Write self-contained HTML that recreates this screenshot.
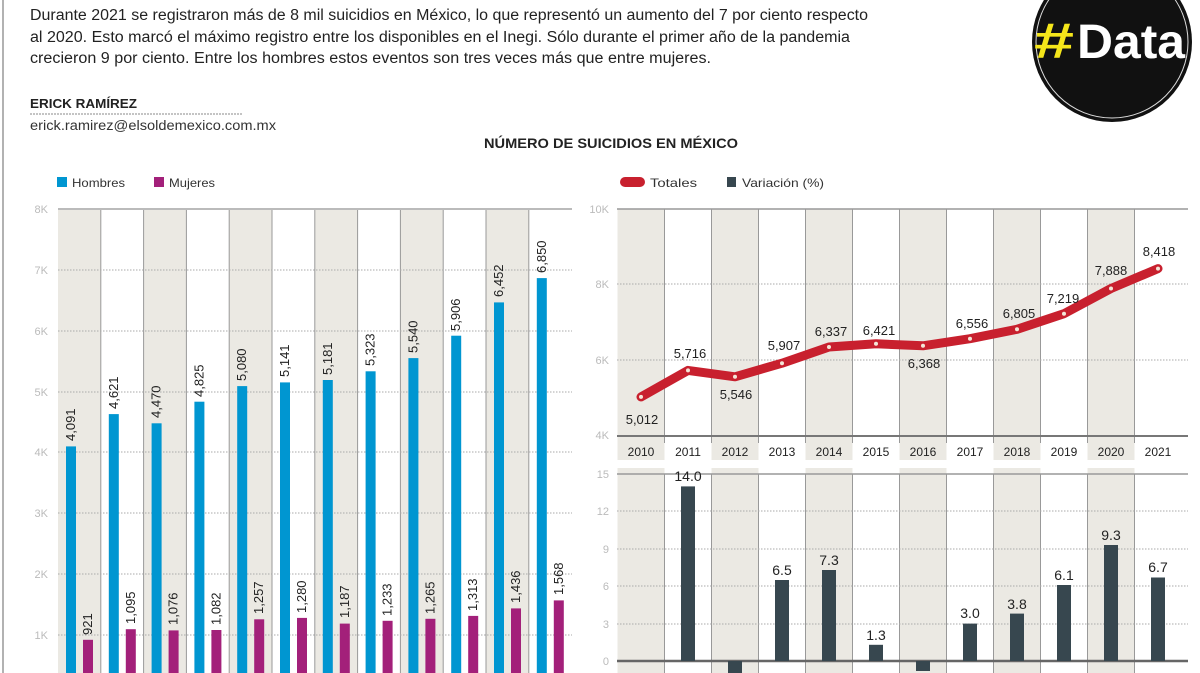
<!DOCTYPE html>
<html><head><meta charset="utf-8"><style>
body{margin:0;background:#fff;}
svg{display:block;font-family:"Liberation Sans",sans-serif;}
</style></head><body>
<svg width="1200" height="673" viewBox="0 0 1200 673" xmlns="http://www.w3.org/2000/svg">
<rect width="1200" height="673" fill="#fff"/>
<line x1="3" y1="0" x2="3" y2="673" stroke="#999" stroke-width="1.5"/>
<g font-size="15.5" fill="#222">
<text x="30" y="20" textLength="838" lengthAdjust="spacingAndGlyphs">Durante 2021 se registraron más de 8 mil suicidios en México, lo que representó un aumento del 7 por ciento respecto</text>
<text x="30" y="42" textLength="820" lengthAdjust="spacingAndGlyphs">al 2020. Esto marcó el máximo registro entre los disponibles en el Inegi. Sólo durante el primer año de la pandemia</text>
<text x="30" y="63" textLength="681" lengthAdjust="spacingAndGlyphs">crecieron 9 por ciento. Entre los hombres estos eventos son tres veces más que entre mujeres.</text>
</g>
<text x="30" y="108" font-size="13" font-weight="bold" fill="#222" textLength="107" lengthAdjust="spacingAndGlyphs">ERICK RAMÍREZ</text>
<line x1="30" y1="114" x2="242" y2="114" stroke="#888" stroke-dasharray="2,1"/>
<text x="30" y="130" font-size="13.5" fill="#333" textLength="246" lengthAdjust="spacingAndGlyphs">erick.ramirez@elsoldemexico.com.mx</text>
<text x="611" y="148" font-size="14" font-weight="bold" fill="#222" text-anchor="middle" textLength="254" lengthAdjust="spacingAndGlyphs">NÚMERO DE SUICIDIOS EN MÉXICO</text>
<!-- logo -->
<circle cx="1112" cy="42" r="80" fill="#111"/>
<circle cx="1112" cy="42" r="76" fill="none" stroke="#ddd" stroke-width="1"/>
<text x="1034" y="58" font-size="50" font-weight="bold" fill="#f5e61a" textLength="40" lengthAdjust="spacingAndGlyphs">#</text>
<text x="1077" y="58" font-size="48" font-weight="bold" fill="#fff" textLength="108" lengthAdjust="spacingAndGlyphs">Data</text>
<!-- left legend -->
<rect x="57" y="177" width="10" height="10" fill="#0096d1"/><text x="72" y="187" font-size="12" fill="#333" textLength="53" lengthAdjust="spacingAndGlyphs">Hombres</text>
<rect x="154" y="177" width="10" height="10" fill="#a3207a"/><text x="169" y="187" font-size="12" fill="#333" textLength="46" lengthAdjust="spacingAndGlyphs">Mujeres</text>
<!-- left columns -->
<g fill="#ebe9e3">
<rect x="58" y="209" width="42.8" height="464"/><rect x="143.6" y="209" width="42.8" height="464"/><rect x="229.2" y="209" width="42.8" height="464"/><rect x="314.8" y="209" width="42.8" height="464"/><rect x="400.4" y="209" width="42.8" height="464"/><rect x="486" y="209" width="42.8" height="464"/>
</g>
<g stroke="#999" stroke-width="1">
<line x1="100.8" y1="209" x2="100.8" y2="673"/><line x1="143.6" y1="209" x2="143.6" y2="673"/><line x1="186.4" y1="209" x2="186.4" y2="673"/><line x1="229.2" y1="209" x2="229.2" y2="673"/><line x1="272" y1="209" x2="272" y2="673"/><line x1="314.8" y1="209" x2="314.8" y2="673"/><line x1="357.6" y1="209" x2="357.6" y2="673"/><line x1="400.4" y1="209" x2="400.4" y2="673"/><line x1="443.2" y1="209" x2="443.2" y2="673"/><line x1="486" y1="209" x2="486" y2="673"/><line x1="528.8" y1="209" x2="528.8" y2="673"/>
</g>
<line x1="58" y1="209" x2="572" y2="209" stroke="#bbb" stroke-width="2"/>
<g stroke="#aaa" stroke-dasharray="1.5,1.5">
<line x1="58" y1="270" x2="572" y2="270"/><line x1="58" y1="331" x2="572" y2="331"/><line x1="58" y1="392" x2="572" y2="392"/><line x1="58" y1="452" x2="572" y2="452"/><line x1="58" y1="513" x2="572" y2="513"/><line x1="58" y1="574" x2="572" y2="574"/><line x1="58" y1="635" x2="572" y2="635"/>
</g>
<g font-size="11" fill="#bbb" text-anchor="end">
<text x="48" y="213">8K</text><text x="48" y="274">7K</text><text x="48" y="335">6K</text><text x="48" y="396">5K</text><text x="48" y="456">4K</text><text x="48" y="517">3K</text><text x="48" y="578">2K</text><text x="48" y="639">1K</text>
</g>
<g fill="#0096d1">
<rect x="66" y="446.4" width="10" height="260"/><rect x="108.8" y="414.1" width="10" height="290"/><rect x="151.6" y="423.3" width="10" height="280"/><rect x="194.4" y="401.7" width="10" height="300"/><rect x="237.2" y="386.1" width="10" height="320"/><rect x="280" y="382.4" width="10" height="320"/><rect x="322.8" y="380" width="10" height="320"/><rect x="365.6" y="371.3" width="10" height="330"/><rect x="408.4" y="358.1" width="10" height="340"/><rect x="451.2" y="335.7" width="10" height="360"/><rect x="494" y="302.4" width="10" height="400"/><rect x="536.8" y="278.1" width="10" height="420"/>
</g>
<g fill="#a3207a">
<rect x="83" y="639.8" width="10" height="60"/><rect x="125.8" y="629.2" width="10" height="60"/><rect x="168.6" y="630.4" width="10" height="60"/><rect x="211.4" y="630" width="10" height="60"/><rect x="254.2" y="619.3" width="10" height="60"/><rect x="297" y="617.9" width="10" height="60"/><rect x="339.8" y="623.6" width="10" height="60"/><rect x="382.6" y="620.8" width="10" height="60"/><rect x="425.4" y="618.8" width="10" height="60"/><rect x="468.2" y="615.9" width="10" height="60"/><rect x="511" y="608.4" width="10" height="70"/><rect x="553.8" y="600.4" width="10" height="80"/>
</g>
<g font-size="13" fill="#222">
<text transform="translate(75,441) rotate(-90)">4,091</text>
<text transform="translate(117.8,409) rotate(-90)">4,621</text>
<text transform="translate(160.6,418) rotate(-90)">4,470</text>
<text transform="translate(203.4,397) rotate(-90)">4,825</text>
<text transform="translate(246.2,381) rotate(-90)">5,080</text>
<text transform="translate(289,377) rotate(-90)">5,141</text>
<text transform="translate(331.8,375) rotate(-90)">5,181</text>
<text transform="translate(374.6,366) rotate(-90)">5,323</text>
<text transform="translate(417.4,353) rotate(-90)">5,540</text>
<text transform="translate(460.2,331) rotate(-90)">5,906</text>
<text transform="translate(503,297) rotate(-90)">6,452</text>
<text transform="translate(545.8,273) rotate(-90)">6,850</text>
<text transform="translate(92,635) rotate(-90)">921</text>
<text transform="translate(134.8,624) rotate(-90)">1,095</text>
<text transform="translate(177.6,625) rotate(-90)">1,076</text>
<text transform="translate(220.4,625) rotate(-90)">1,082</text>
<text transform="translate(263.2,614) rotate(-90)">1,257</text>
<text transform="translate(306,613) rotate(-90)">1,280</text>
<text transform="translate(348.8,618) rotate(-90)">1,187</text>
<text transform="translate(391.6,616) rotate(-90)">1,233</text>
<text transform="translate(434.4,614) rotate(-90)">1,265</text>
<text transform="translate(477.2,611) rotate(-90)">1,313</text>
<text transform="translate(520,603) rotate(-90)">1,436</text>
<text transform="translate(562.8,595) rotate(-90)">1,568</text>
</g>
<!-- right legend -->
<rect x="620" y="177" width="25" height="10" rx="5" fill="#c8202e"/><text x="650" y="187" font-size="12" fill="#333" textLength="47" lengthAdjust="spacingAndGlyphs">Totales</text>
<rect x="727" y="177" width="9" height="10" fill="#37474f"/><text x="742" y="187" font-size="12" fill="#333" textLength="82" lengthAdjust="spacingAndGlyphs">Variación (%)</text>
<!-- right columns -->
<g fill="#ebe9e3">
<rect x="617.5" y="209" width="47" height="251"/><rect x="711.5" y="209" width="47" height="251"/><rect x="805.5" y="209" width="47" height="251"/><rect x="899.5" y="209" width="47" height="251"/><rect x="993.5" y="209" width="47" height="251"/><rect x="1087.5" y="209" width="47" height="251"/>
<rect x="617.5" y="468" width="47" height="205"/><rect x="711.5" y="468" width="47" height="205"/><rect x="805.5" y="468" width="47" height="205"/><rect x="899.5" y="468" width="47" height="205"/><rect x="993.5" y="468" width="47" height="205"/><rect x="1087.5" y="468" width="47" height="205"/>
</g>
<g stroke="#999" stroke-width="1">
<line x1="664.5" y1="209" x2="664.5" y2="443"/><line x1="711.5" y1="209" x2="711.5" y2="443"/><line x1="758.5" y1="209" x2="758.5" y2="443"/><line x1="805.5" y1="209" x2="805.5" y2="443"/><line x1="852.5" y1="209" x2="852.5" y2="443"/><line x1="899.5" y1="209" x2="899.5" y2="443"/><line x1="946.5" y1="209" x2="946.5" y2="443"/><line x1="993.5" y1="209" x2="993.5" y2="443"/><line x1="1040.5" y1="209" x2="1040.5" y2="443"/><line x1="1087.5" y1="209" x2="1087.5" y2="443"/><line x1="1134.5" y1="209" x2="1134.5" y2="443"/>
<line x1="664.5" y1="474" x2="664.5" y2="673"/><line x1="711.5" y1="474" x2="711.5" y2="673"/><line x1="758.5" y1="474" x2="758.5" y2="673"/><line x1="805.5" y1="474" x2="805.5" y2="673"/><line x1="852.5" y1="474" x2="852.5" y2="673"/><line x1="899.5" y1="474" x2="899.5" y2="673"/><line x1="946.5" y1="474" x2="946.5" y2="673"/><line x1="993.5" y1="474" x2="993.5" y2="673"/><line x1="1040.5" y1="474" x2="1040.5" y2="673"/><line x1="1087.5" y1="474" x2="1087.5" y2="673"/><line x1="1134.5" y1="474" x2="1134.5" y2="673"/>
</g>
<line x1="617" y1="209" x2="1188" y2="209" stroke="#999" stroke-width="1.5"/>
<line x1="617" y1="436" x2="1188" y2="436" stroke="#777" stroke-width="2"/>
<line x1="617" y1="474" x2="1188" y2="474" stroke="#999" stroke-width="1.5"/>
<line x1="617" y1="661" x2="1188" y2="661" stroke="#666" stroke-width="2.5"/>
<g stroke="#aaa" stroke-dasharray="1.5,1.5">
<line x1="617" y1="284" x2="1188" y2="284"/><line x1="617" y1="360" x2="1188" y2="360"/>
<line x1="617" y1="511" x2="1188" y2="511"/><line x1="617" y1="549" x2="1188" y2="549"/><line x1="617" y1="586" x2="1188" y2="586"/><line x1="617" y1="624" x2="1188" y2="624"/>
</g>
<g font-size="11" fill="#bbb" text-anchor="end">
<text x="609" y="213">10K</text><text x="609" y="288">8K</text><text x="609" y="364">6K</text><text x="609" y="439">4K</text>
<text x="609" y="478">15</text><text x="609" y="515">12</text><text x="609" y="553">9</text><text x="609" y="590">6</text><text x="609" y="628">3</text><text x="609" y="665">0</text>
</g>
<g font-size="12" fill="#222" text-anchor="middle">
<text x="641" y="456">2010</text><text x="688" y="456">2011</text><text x="735" y="456">2012</text><text x="782" y="456">2013</text><text x="829" y="456">2014</text><text x="876" y="456">2015</text><text x="923" y="456">2016</text><text x="970" y="456">2017</text><text x="1017" y="456">2018</text><text x="1064" y="456">2019</text><text x="1111" y="456">2020</text><text x="1158" y="456">2021</text>
</g>
<polyline points="641,396.9 688,370.4 735,376.8 782,363.2 829,347 876,343.8 923,345.8 970,338.7 1017,329.3 1064,313.7 1111,288.5 1158,268.6" fill="none" stroke="#c8202e" stroke-width="9" stroke-linejoin="round" stroke-linecap="round"/>
<g fill="#f3e6d8">
<circle cx="641" cy="396.9" r="2"/><circle cx="688" cy="370.4" r="2"/><circle cx="735" cy="376.8" r="2"/><circle cx="782" cy="363.2" r="2"/><circle cx="829" cy="347" r="2"/><circle cx="876" cy="343.8" r="2"/><circle cx="923" cy="345.8" r="2"/><circle cx="970" cy="338.7" r="2"/><circle cx="1017" cy="329.3" r="2"/><circle cx="1064" cy="313.7" r="2"/><circle cx="1111" cy="288.5" r="2"/><circle cx="1158" cy="268.6" r="2"/>
</g>
<g font-size="13" fill="#222" text-anchor="middle">
<text x="642" y="424">5,012</text><text x="690" y="358">5,716</text><text x="736" y="399">5,546</text><text x="784" y="350">5,907</text><text x="831" y="336">6,337</text><text x="879" y="335">6,421</text><text x="924" y="368">6,368</text><text x="972" y="328">6,556</text><text x="1019" y="318">6,805</text><text x="1063" y="303">7,219</text><text x="1111" y="275">7,888</text><text x="1159" y="256">8,418</text>
</g>
<g fill="#37474f">
<rect x="681" y="486.4" width="14" height="174.6"/><rect x="728" y="661" width="14" height="37"/><rect x="775" y="580" width="14" height="81"/><rect x="822" y="570" width="14" height="91"/><rect x="869" y="644.8" width="14" height="16.2"/><rect x="916" y="661" width="14" height="10"/><rect x="963" y="623.6" width="14" height="37.4"/><rect x="1010" y="613.6" width="14" height="47.4"/><rect x="1057" y="585" width="14" height="76"/><rect x="1104" y="545" width="14" height="116"/><rect x="1151" y="577.5" width="14" height="83.5"/>
</g>
<g font-size="14" fill="#222" text-anchor="middle">
<text x="688" y="481">14.0</text><text x="782" y="575">6.5</text><text x="829" y="565">7.3</text><text x="876" y="640">1.3</text><text x="970" y="618">3.0</text><text x="1017" y="609">3.8</text><text x="1064" y="580">6.1</text><text x="1111" y="540">9.3</text><text x="1158" y="572">6.7</text>
</g>
</svg>
</body></html>
